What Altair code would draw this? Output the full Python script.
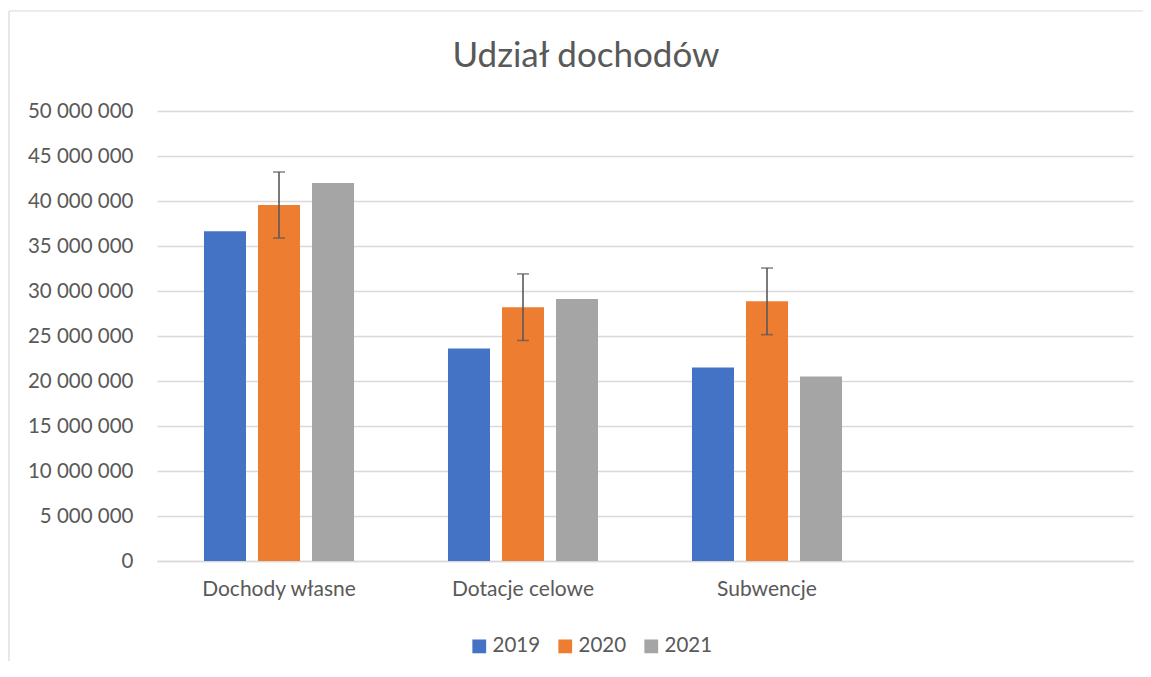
import altair as alt
import pandas as pd

categories = ["Dochody własne", "Dotacje celowe", "Subwencje"]
years = ["2019", "2020", "2021"]
v2019 = [36650000, 23600000, 21500000]
v2020 = [39550000, 28200000, 28850000]
v2021 = [42000000, 29100000, 20500000]
err2020 = [3670000, 3700000, 3700000]
colors = ["#4472C4", "#ED7D31", "#A5A5A5"]
y_ticks = list(range(0, 50000001, 5000000))
title_text = "Udział dochodów"

rows = []
for i, c in enumerate(categories):
    for y, vals in zip(years, [v2019, v2020, v2021]):
        rows.append({"cat": c, "year": y, "value": vals[i]})
df = pd.DataFrame(rows)

err_df = pd.DataFrame({
    "cat": categories,
    "year": ["2020"] * 3,
    "low": [v - e for v, e in zip(v2020, err2020)],
    "high": [v + e for v, e in zip(v2020, err2020)],
})

FONT = "Lato"
GREY = "#595959"

x_enc = alt.X("cat:N", scale=alt.Scale(domain=categories + [" "], paddingInner=0, paddingOuter=0),
              axis=alt.Axis(title=None, labelAngle=0, ticks=False, domainColor="#d9d9d9",
                            domainWidth=1.3, labelPadding=17, labelFontSize=21,
                            labelColor=GREY, labelFont=FONT, grid=False))
xoff = alt.XOffset("year:N", scale=alt.Scale(domain=years, paddingInner=0.222, paddingOuter=0.87))
y_scale = alt.Scale(domain=[0, 50000000])

bars = alt.Chart(df).mark_bar().encode(
    x=x_enc,
    xOffset=xoff,
    y=alt.Y("value:Q", scale=y_scale,
            axis=alt.Axis(title=None, values=y_ticks, domain=False, ticks=False,
                          gridColor="#d9d9d9", gridWidth=1.3, labelPadding=24,
                          labelFontSize=20.5, labelColor=GREY, labelFont=FONT,
                          labelExpr="replace(format(datum.value, ','), regexp(',', 'g'), ' ')")),
    color=alt.Color("year:N", scale=alt.Scale(domain=years, range=colors),
                    legend=alt.Legend(title=None, orient="none", legendX=312, legendY=525,
                                      direction="horizontal", symbolType="square",
                                      symbolSize=190, symbolStrokeWidth=0,
                                      labelFontSize=20.5, labelColor=GREY, labelFont=FONT,
                                      columnPadding=14, labelOffset=3)),
)

err_rule = alt.Chart(err_df).mark_rule(color=GREY, strokeWidth=1.6).encode(
    x=alt.X("cat:N"), xOffset=alt.XOffset("year:N"),
    y=alt.Y("low:Q"), y2="high:Q",
)
cap_hi = alt.Chart(err_df).mark_tick(color=GREY, thickness=1.6, size=12).encode(
    x=alt.X("cat:N"), xOffset=alt.XOffset("year:N"), y=alt.Y("high:Q"),
)
cap_lo = alt.Chart(err_df).mark_tick(color=GREY, thickness=1.6, size=12).encode(
    x=alt.X("cat:N"), xOffset=alt.XOffset("year:N"), y=alt.Y("low:Q"),
)

one = alt.Data(values=[{"t": title_text}])
border_top = alt.Chart(one).mark_rule(color="#d9d9d9", strokeWidth=1.2).encode(
    x=alt.value(-148), x2=alt.value(1000), y=alt.value(-100))
border_left = alt.Chart(one).mark_rule(color="#d9d9d9", strokeWidth=1.2).encode(
    x=alt.value(-148), y=alt.value(-100), y2=alt.value(570))
title = alt.Chart(one).mark_text(font=FONT, fontSize=35, color=GREY, align="center",
                                 baseline="alphabetic").encode(
    x=alt.value(429), y=alt.value(-44), text="t:N")

chart = alt.layer(border_top, border_left, title, bars, err_rule, cap_hi, cap_lo).properties(
    width=976, height=450,
    autosize=alt.AutoSizeParams(type="none"),
    padding={"left": 149, "top": 103, "right": 10, "bottom": 100},
).configure(background="white", view=alt.ViewConfig(stroke="transparent"))

chart.save("out.html", embed_options={"renderer": "svg", "actions": False})
